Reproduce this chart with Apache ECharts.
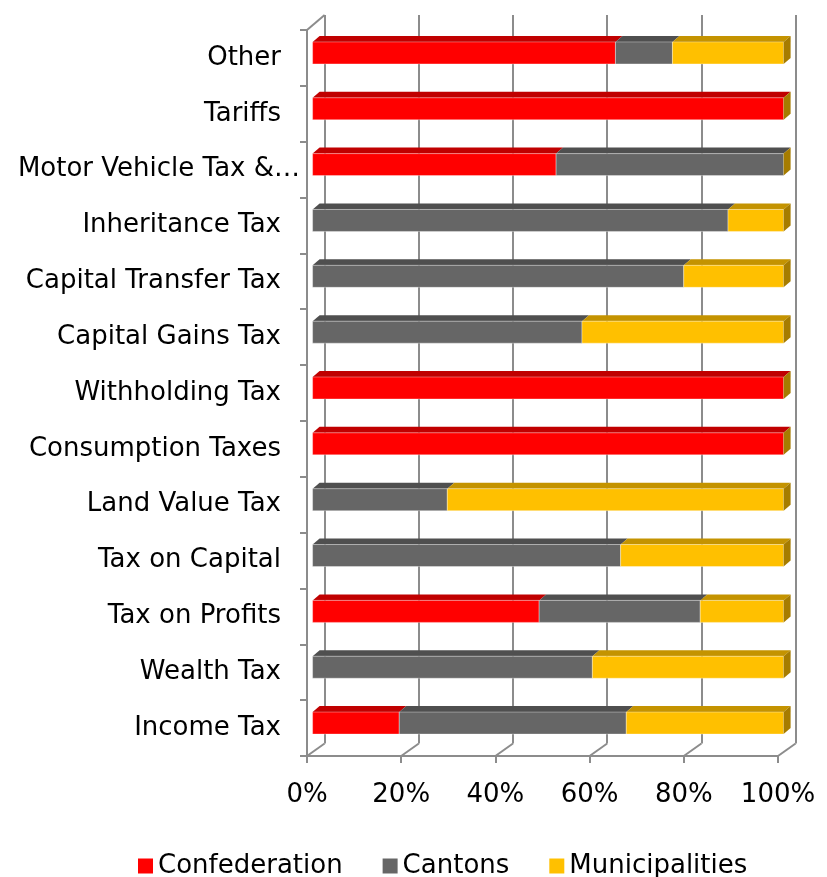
<!DOCTYPE html>
<html><head><meta charset="utf-8">
<script src="https://cdn.jsdelivr.net/npm/echarts@6/dist/echarts.min.js"></script>
<style>html,body{margin:0;padding:0;background:#fff}#c{width:827px;height:877px}</style>
</head><body><div id="c"></div>
<script>
const categories = ['Other','Tariffs','Motor Vehicle Tax &…','Inheritance Tax','Capital Transfer Tax','Capital Gains Tax','Withholding Tax','Consumption Taxes','Land Value Tax','Tax on Capital','Tax on Profits','Wealth Tax','Income Tax'];
const confederation  = [64.3, 100, 51.7, 0,    0,    0,    100, 100, 0,    0,    48.1, 0,    18.4];
const cantons        = [12.1, 0,   48.3, 88.2, 78.8, 57.2, 0,   0,   28.6, 65.4, 34.2, 59.4, 48.2];
const municipalities = [23.6, 0,   0,    11.8, 21.2, 42.8, 0,   0,   71.4, 34.6, 17.7, 40.6, 33.4];
const xTicks = [0, 20, 40, 60, 80, 100];
const seriesNames = ['Confederation', 'Cantons', 'Municipalities'];

const FONT = 'DejaVu Sans';
const GRID = {left: 307, top: 30, width: 471, height: 726};
const DEPTH = {dx: 17.6, dy: -12.5, topDy: -15};
const BAR = {dx: 5.6, dy: -5, h: 22, ddx: 7, ddy: -6};
const GRIDCOL = '#8c8c8c';
const faces = [
  {front: '#FF0000', top: '#C00000'},
  {front: '#666666', top: '#4F4F4F'},
  {front: '#FFC000', top: '#C49300', side: '#A67C00'}
];
const values = [confederation, cantons, municipalities];

function stackData(k) {
  return categories.map((c, i) => {
    let s = 0;
    for (let j = 0; j < k; j++) s += values[j][i];
    return [i, s, s + values[k][i]];
  });
}

function barRender(k) {
  return function (params, api) {
    const i = api.value(0), s = api.value(1), e = api.value(2);
    const p0 = api.coord([s, i]), p1 = api.coord([e, i]);
    const x0 = p0[0] + BAR.dx, x1 = p1[0] + BAR.dx;
    const top = p0[1] + BAR.dy - BAR.h / 2;
    const f = faces[k];
    const ch = [];
    if (e - s > 0) {
      ch.push({type: 'polygon', shape: {points: [[x0, top], [x0 + BAR.ddx, top + BAR.ddy], [x1 + BAR.ddx, top + BAR.ddy], [x1, top]]}, style: {fill: f.top}});
      ch.push({type: 'rect', shape: {x: x0, y: top, width: x1 - x0, height: BAR.h}, style: {fill: f.front, stroke: 'rgba(255,255,255,0.35)', lineWidth: 1}});
    }
    if (f.side) {
      ch.push({type: 'polygon', shape: {points: [[x1, top], [x1 + BAR.ddx, top + BAR.ddy], [x1 + BAR.ddx, top + BAR.ddy + BAR.h], [x1, top + BAR.h]]}, style: {fill: f.side}});
    }
    return {type: 'group', children: ch};
  };
}

function frameRender(params, api) {
  const v = api.value(0);
  const cs = params.coordSys;
  const x = api.coord([v, 0])[0];
  const bottom = cs.y + cs.height;
  const ch = [{type: 'line', shape: {x1: x, y1: bottom, x2: x + DEPTH.dx, y2: bottom + DEPTH.dy}, style: {stroke: GRIDCOL, lineWidth: 2}}];
  if (v === 0) {
    ch.push({type: 'line', shape: {x1: cs.x, y1: cs.y, x2: cs.x + DEPTH.dx, y2: cs.y + DEPTH.topDy}, style: {stroke: GRIDCOL, lineWidth: 2}});
  }
  return {type: 'group', children: ch};
}

const series = [
  {
    type: 'custom', name: '_frame', xAxisIndex: 0, yAxisIndex: 0, silent: true, z: 1,
    data: xTicks.map(v => [v, 0]), encode: {x: 0, y: 1}, renderItem: frameRender
  }
];
seriesNames.forEach((name, k) => {
  series.push({
    type: 'custom', name: name, xAxisIndex: 0, yAxisIndex: 0, z: 5 + k,
    itemStyle: {color: faces[k].front},
    data: stackData(k), encode: {x: [1, 2], y: 0}, renderItem: barRender(k)
  });
});

const categoryData = categories.map(c => c.endsWith('…')
  ? {value: c, textStyle: {padding: [0, -19, 0, 0]}}
  : c);

const chart = echarts.init(document.getElementById('c'), null, {renderer: 'canvas'});
chart.setOption({
  animation: false,
  backgroundColor: '#fff',
  textStyle: {fontFamily: FONT},
  legend: {
    data: seriesNames, top: 848, left: 133, icon: 'rect',
    itemWidth: 15, itemHeight: 15, itemGap: 40,
    textStyle: {fontSize: 26, fontFamily: FONT, color: '#000'}
  },
  grid: [
    {left: GRID.left, top: GRID.top, width: GRID.width, height: GRID.height},
    {left: GRID.left + DEPTH.dx, top: GRID.top + DEPTH.topDy, width: GRID.width, height: GRID.height - DEPTH.topDy + DEPTH.dy}
  ],
  xAxis: [
    {
      type: 'value', gridIndex: 0, min: 0, max: 100, interval: 20,
      axisLine: {show: true, lineStyle: {color: GRIDCOL, width: 2}},
      axisTick: {show: true, length: 7, lineStyle: {color: GRIDCOL, width: 2}},
      splitLine: {show: false},
      axisLabel: {formatter: '{value}%', fontSize: 26, fontFamily: FONT, color: '#000', margin: 26}
    },
    {
      type: 'value', gridIndex: 1, min: 0, max: 100, interval: 20,
      axisLine: {show: false}, axisTick: {show: false}, axisLabel: {show: false},
      splitLine: {show: true, lineStyle: {color: GRIDCOL, width: 2}}
    }
  ],
  yAxis: [
    {
      type: 'category', gridIndex: 0, data: categoryData, inverse: true,
      axisLine: {show: true, lineStyle: {color: GRIDCOL, width: 2}},
      axisTick: {show: true, length: 7, lineStyle: {color: GRIDCOL, width: 2}},
      axisLabel: {fontSize: 26, fontFamily: FONT, color: '#000', margin: 26, padding: [4, 0, 0, 0]}
    },
    {type: 'value', gridIndex: 1, show: false, splitLine: {show: false}}
  ],
  series: series
});
</script>
</body></html>
